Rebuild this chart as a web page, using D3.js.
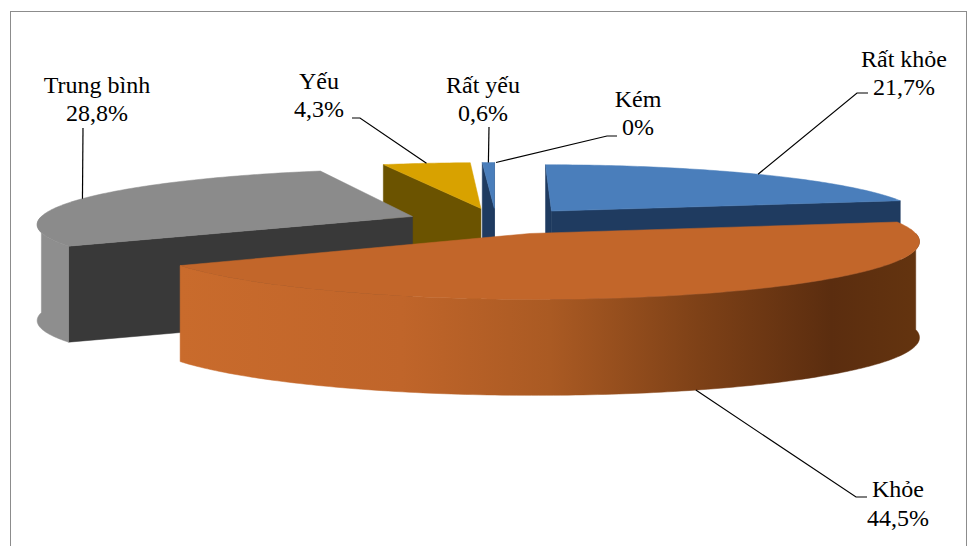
<!DOCTYPE html>
<html><head><meta charset="utf-8">
<script src="https://cdn.jsdelivr.net/npm/d3@7"></script>
<style>html,body{margin:0;padding:0;background:#fff;} svg{display:block;}
.lab{font-family:"Liberation Serif","Times New Roman",Tinos,"DejaVu Serif","Noto Serif",serif;font-size:24px;fill:#000;}</style>
</head><body>
<svg id="chart" width="979" height="546"></svg>
<script>
// ---- data ----
const categories = ["Rất khỏe", "Khỏe", "Trung bình", "Yếu", "Rất yếu", "Kém"];
const values = [21.7, 44.5, 28.8, 4.3, 0.6, 0];
const valueLabels = ["21,7%", "44,5%", "28,8%", "4,3%", "0,6%", "0%"];

// ---- styles / layout ----
const styles = {
  "Rất khỏe":   {top: "#4a7ebb", side: "#1f3b60", wall: "#3f6ea6"},
  "Khỏe":       {top: "#c2662a", side: "#7a3c14", wall: "url(#gKhoe)"},
  "Trung bình": {top: "#8b8b8b", side: "#393939", wall: "#8e8e8e"},
  "Yếu":        {top: "#d8a200", side: "#6b5300", wall: "#9c7600"},
  "Rất yếu":    {top: "#4a7ebb", side: "#1f3b60", wall: "#3f6ea6"},
  "Kém":        {top: "#999", side: "#666", wall: "#777"}
};
const labelLayout = {
  "Rất khỏe":   {x: 904, y1: 67,  y2: 95,  lead: [[868, 93], [857, 93]]},
  "Khỏe":       {x: 898, y1: 497, y2: 526, lead: [[867, 497], [856, 497]]},
  "Trung bình": {x: 97,  y1: 93,  y2: 121, lead: [[83, 128]]},
  "Yếu":        {x: 319, y1: 89,  y2: 117, lead: [[352, 118], [360, 118]]},
  "Rất yếu":    {x: 483, y1: 93,  y2: 121, lead: [[489, 127]]},
  "Kém":        {x: 638, y1: 107, y2: 135, lead: [[617, 136], [607, 136]]}
};
const view = {cx: 496, cy: 221, F: 375, D: 8, sinA: 0.145, T: 96, explode: 0.24};
view.cosA = Math.sqrt(1 - view.sinA * view.sinA);

const svg = d3.select("#chart");
const defs = svg.append("defs");
const g = defs.append("linearGradient").attr("id", "gKhoe")
  .attr("gradientUnits", "userSpaceOnUse").attr("x1", 180).attr("x2", 920).attr("y1", 0).attr("y2", 0);
[[0, "#c96b2c"], [0.3, "#c0652a"], [0.5, "#aa5a23"], [0.7, "#7e4117"], [0.88, "#5b2d0f"], [1, "#64340f"]]
  .forEach(([o, c]) => g.append("stop").attr("offset", o).attr("stop-color", c));

// frame
svg.append("rect").attr("x", 10.5).attr("y", 11.5).attr("width", 956).attr("height", 560)
  .attr("fill", "none").attr("stroke", "#8c8c8c").attr("stroke-width", 1);

// projection (perspective on the pie plane, constant extrusion)
function proj(X, Z, bottom) {
  const s = view.D / (view.D - Z * view.cosA);
  return [view.cx + view.F * X * s, view.cy + view.F * Z * view.sinA * s + (bottom ? view.T : 0)];
}
function shoelace(p) {
  let a = 0;
  for (let i = 0; i < p.length; i++) { const q = p[i], r = p[(i + 1) % p.length]; a += q[0] * r[1] - r[0] * q[1]; }
  return a / 2;
}

const arcs = d3.pie().sort(null).value(d => d)(values);
const slices = arcs.map((a, i) => {
  const m = (a.startAngle + a.endAngle) / 2;
  return {i, cat: categories[i], a: a.startAngle, b: a.endAngle, m,
          ox: view.explode * Math.sin(m), oz: -view.explode * Math.cos(m)};
});
const P = (sl, r, th, bottom) => proj(sl.ox + r * Math.sin(th), sl.oz - r * Math.cos(th), bottom);
const arcPts = (sl, a0, a1, bottom) => {
  const n = Math.max(2, Math.ceil(Math.abs(a1 - a0) * 60));
  return d3.range(n + 1).map(k => P(sl, 1, a0 + (a1 - a0) * k / n, bottom));
};
const line = d3.line();
const pieG = svg.append("g");

slices.filter(s => values[s.i] > 0).sort((p, q) => p.oz - q.oz).forEach(sl => {
  const st = styles[sl.cat];
  const gg = pieG.append("g");
  const cT = P(sl, 0, 0, false), cB = P(sl, 0, 0, true);
  const startF = [cT, P(sl, 1, sl.a, false), P(sl, 1, sl.a, true), cB];
  const endF = [cT, P(sl, 1, sl.b, false), P(sl, 1, sl.b, true), cB];
  if (shoelace(startF) < 0) gg.append("path").attr("d", line(startF) + "Z").attr("fill", st.side).attr("stroke", st.side).attr("stroke-width", 0.5);
  if (shoelace(endF) > 0) gg.append("path").attr("d", line(endF) + "Z").attr("fill", st.side).attr("stroke", st.side).attr("stroke-width", 0.5);
  const lo = Math.max(sl.a, Math.PI / 2), hi = Math.min(sl.b, 3 * Math.PI / 2);
  if (hi > lo) {
    const wall = arcPts(sl, lo, hi, false).concat(arcPts(sl, hi, lo, true));
    gg.append("path").attr("d", line(wall) + "Z").attr("fill", st.wall).attr("stroke", st.wall).attr("stroke-width", 0.5);
  }
  const topF = [cT].concat(arcPts(sl, sl.a, sl.b, false));
  gg.append("path").attr("d", line(topF) + "Z").attr("fill", st.top).attr("stroke", st.top).attr("stroke-width", 0.5);
});

// labels + leader lines
const labG = svg.append("g");
slices.forEach(sl => {
  const L = labelLayout[sl.cat];
  const wallVisible = sl.m > Math.PI / 2 && sl.m < 3 * Math.PI / 2 && values[sl.i] > 0;
  const anchor = P(sl, 1, sl.m, wallVisible);
  labG.append("path").attr("d", line(L.lead.concat([anchor])))
    .attr("fill", "none").attr("stroke", "#000").attr("stroke-width", 1.2);
  const t = labG.append("text").attr("class", "lab").attr("text-anchor", "middle");
  t.append("tspan").attr("x", L.x).attr("y", L.y1).text(sl.cat);
  t.append("tspan").attr("x", L.x).attr("y", L.y2).text(valueLabels[sl.i]);
});
</script>
</body></html>
